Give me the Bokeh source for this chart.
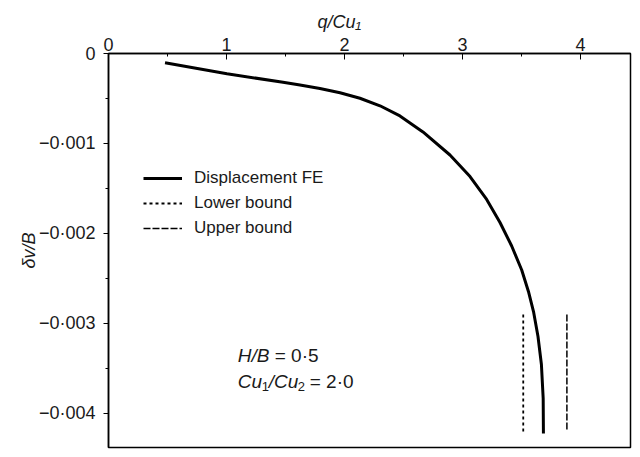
from bokeh.plotting import figure
from bokeh.models import Range1d, FixedTicker, CustomJSTickFormatter, Label, Title
from bokeh.embed import file_html
from bokeh.resources import INLINE

# ---- data ----
fe_q = [0.479, 1.004, 1.479, 1.623, 1.792, 1.962, 2.131, 2.301, 2.470, 2.665,
        2.894, 3.064, 3.205, 3.318, 3.417, 3.502, 3.559, 3.602, 3.640, 3.669,
        3.684, 3.686]
fe_d = [-0.000103, -0.000226, -0.000319, -0.000350, -0.000389, -0.000436, -0.000497,
        -0.000581, -0.000694, -0.000872, -0.001128, -0.001367, -0.001622, -0.001878,
        -0.002139, -0.002406, -0.002644, -0.002867, -0.003144, -0.003456, -0.003833,
        -0.004222]
lower_q = [3.515, 3.515]
lower_d = [-0.0029, -0.0042]
upper_q = [3.885, 3.885]
upper_d = [-0.0029, -0.0042]
x_ticks = [0, 1, 2, 3, 4]
y_ticks = [0, -0.001, -0.002, -0.003, -0.004]
series_names = ["Displacement FE", "Lower bound", "Upper bound"]

FONT = "Liberation Sans"
TXT = "#1a1a1a"

p = figure(width=632, height=449, output_backend="svg", toolbar_location=None,
           x_axis_location="above",
           x_range=Range1d(0, 4.424), y_range=Range1d(-0.004378, 0),
           min_border_left=108, min_border_top=53, min_border_right=2, min_border_bottom=2)
p.xgrid.visible = False
p.ygrid.visible = False
p.outline_line_color = "black"
p.outline_line_width = 1.5
p.outline_line_alpha = 1.0

xa = p.xaxis[0]
xa.ticker = FixedTicker(ticks=x_ticks, minor_ticks=[0.5, 1.5, 2.5, 3.5])
xa.major_tick_in = 6
xa.major_tick_out = 0
xa.minor_tick_in = 3
xa.minor_tick_out = 0
xa.major_label_standoff = 3
xa.major_label_text_font = FONT
xa.major_label_text_font_size = "18px"
xa.major_label_text_color = TXT
xa.axis_line_width = 1.5
xa.axis_line_color = "black"

title = Title(text="q/Cu\u2081", align="left", offset=209, standoff=6,
              text_font=FONT, text_font_size="18px", text_font_style="italic",
              text_color=TXT)
p.add_layout(title, "above")

ya = p.yaxis[0]
ya.ticker = FixedTicker(ticks=y_ticks, minor_ticks=[-0.0005, -0.0015, -0.0025, -0.0035])
ya.formatter = CustomJSTickFormatter(code="""
if (Math.abs(tick) < 1e-12) return "0";
return "\u2212" + Math.abs(tick).toFixed(3).replace(".", "\u00b7");
""")
ya.major_tick_out = 5
ya.major_tick_in = 0
ya.minor_tick_out = 3
ya.minor_tick_in = 0
ya.major_label_standoff = 8
ya.major_label_text_font = FONT
ya.major_label_text_font_size = "18px"
ya.major_label_text_color = TXT
ya.axis_line_width = 1.5
ya.axis_line_color = "black"
ya.axis_label = "\u03b4v/B"
ya.axis_label_text_font = FONT
ya.axis_label_text_font_style = "italic"
ya.axis_label_text_font_size = "18px"
ya.axis_label_text_color = TXT
ya.axis_label_standoff = -3

p.line(fe_q, fe_d, line_color="black", line_width=3, legend_label=series_names[0])
p.line(lower_q, lower_d, line_color="black", line_width=1.8, line_dash="3 3",
       legend_label=series_names[1])
p.line(upper_q, upper_d, line_color="black", line_width=1.5, line_dash="7 2",
       legend_label=series_names[2])

lg = p.legend[0]
lg.location = (35, 209)
lg.border_line_color = None
lg.background_fill_alpha = 0
lg.padding = 0
lg.margin = 0
lg.spacing = 5
lg.glyph_width = 39
lg.glyph_height = 20
lg.label_height = 20
lg.label_standoff = 12
lg.label_text_font = FONT
lg.label_text_font_size = "17px"
lg.label_text_color = TXT


def piece(x, y, text, dx=0, dy=0, size="19px", italic=False):
    p.add_layout(Label(x=x, y=y, x_offset=dx, y_offset=dy, text=text,
                       text_font=FONT, text_font_size=size, text_color=TXT,
                       text_font_style="italic" if italic else "normal",
                       text_baseline="middle", text_align="left"))

# annotation
ax = 1.095
piece(ax, -0.003356, "H/B", italic=True)
piece(ax, -0.003356, "= 0\u00b75", dx=37)
ay = -0.003644
piece(ax, ay, "Cu", italic=True)
piece(ax, ay, "1", dx=24, dy=-5, size="13px")
piece(ax, ay, "/Cu", italic=True, dx=31)
piece(ax, ay, "2", dx=60, dy=-5, size="13px")
piece(ax, ay, "= 2\u00b70", dx=72)

open("out.html", "w").write(file_html(p, INLINE))
